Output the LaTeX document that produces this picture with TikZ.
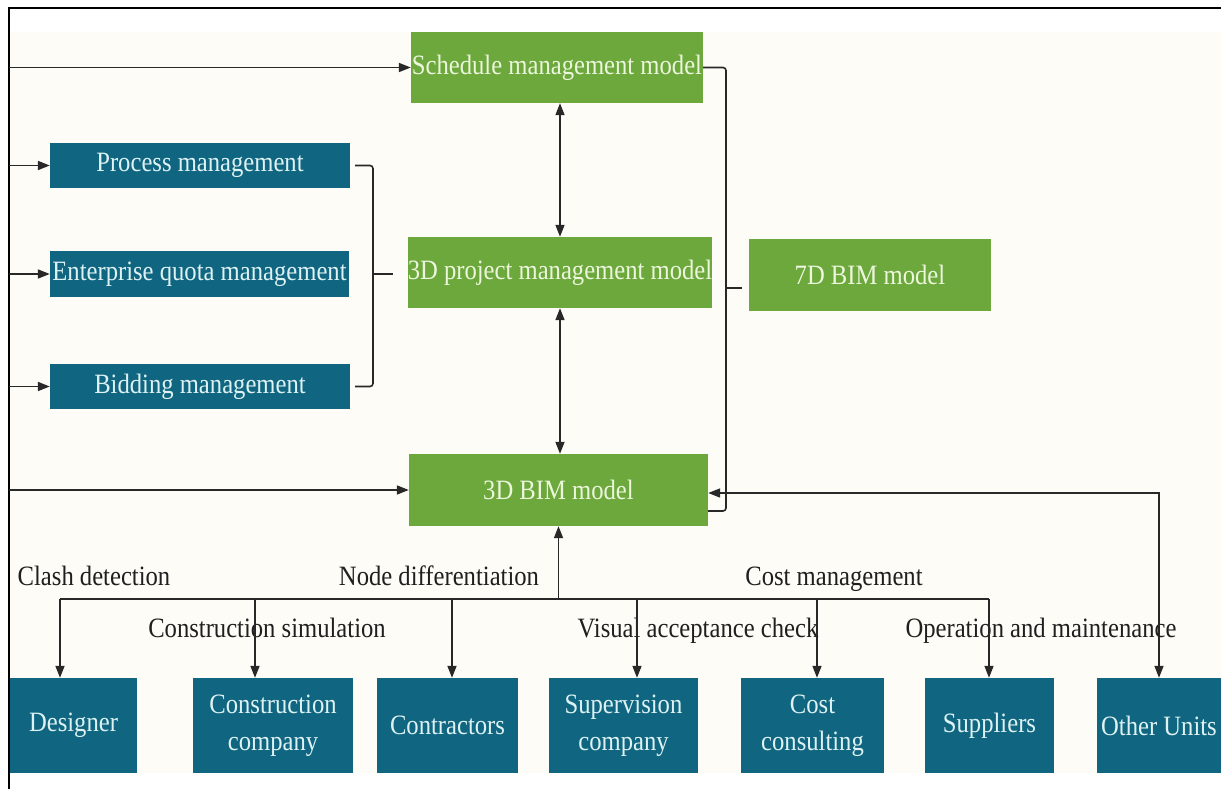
\documentclass[tikz,border=0pt]{standalone}
\usepackage{fontspec}
\setmainfont{Liberation Serif}[FakeStretch=0.88]
\usetikzlibrary{arrows.meta}
\definecolor{boxgreen}{RGB}{108,168,60}
\definecolor{boxteal}{RGB}{16,102,128}
\definecolor{paper}{RGB}{253,252,246}
\definecolor{linegray}{RGB}{40,40,40}
\definecolor{greentext}{RGB}{236,246,220}
\definecolor{tealtext}{RGB}{222,242,244}

\begin{document}
\begin{tikzpicture}[x=1pt,y=-1pt,font=\fontsize{28}{37}\selectfont]
    \tikzstyle{greenbox}=[fill=boxgreen, text=greentext, inner sep=0pt, minimum height=71pt]
    \tikzstyle{tealbox}=[fill=boxteal, text=tealtext, inner sep=0pt, align=center]
    \tikzstyle{conn}=[draw=linegray, line width=1.6pt]
    \tikzstyle{arr}=[conn, -{Triangle[length=12pt,width=9pt]}]
    \tikzstyle{darr}=[conn, {Triangle[length=12pt,width=9pt]}-{Triangle[length=12pt,width=9pt]}]
    \tikzstyle{lbl}=[text=black!88, inner sep=0pt, anchor=base]

    \useasboundingbox (0,0) rectangle (1221,789);
    \fill[white] (0,0) rectangle (1221,789);
    \fill[paper] (9,32) rectangle (1221,773);
    \draw[line width=2pt] (9,789) -- (9,8) -- (1221,8);

    % models
    \node[greenbox, minimum width=292pt] (sched) at (557,67.5) {Schedule management model};
    \node[greenbox, minimum width=302pt] (proj3d) at (560,272.5) {3D project management model};
    \node[greenbox, minimum width=299pt, minimum height=72pt] (bim3d) at (558.5,490) {3D BIM model};
    \node[greenbox, minimum width=242pt, minimum height=72pt] (bim7d) at (870,275) {7D BIM model};

    % management
    \node[tealbox, minimum width=300pt, minimum height=45pt] (procm) at (200,165.5) {Process management};
    \node[tealbox, minimum width=299pt, minimum height=46pt] (quota) at (199.5,274) {Enterprise quota management};
    \node[tealbox, minimum width=300pt, minimum height=45pt] (bidm) at (200,386.5) {Bidding management};

    % units
    \node[tealbox, minimum width=127pt, minimum height=95pt] (designer) at (73.5,725.5) {Designer};
    \node[tealbox, minimum width=160pt, minimum height=95pt] (constr) at (273,725.5) {Construction\\company};
    \node[tealbox, minimum width=141pt, minimum height=95pt] (contr) at (447.5,725.5) {Contractors};
    \node[tealbox, minimum width=149pt, minimum height=95pt] (superv) at (623.5,725.5) {Supervision\\company};
    \node[tealbox, minimum width=143pt, minimum height=95pt] (costc) at (812.5,725.5) {Cost\\consulting};
    \node[tealbox, minimum width=129pt, minimum height=95pt] (suppl) at (989.5,725.5) {Suppliers};
    \node[tealbox, minimum width=124pt, minimum height=95pt] (other) at (1159,725.5) {Other Units};

    % labels
    \node[lbl] (clash) at (94,585) {Clash detection};
    \node[lbl] (nodediff) at (439,585) {Node differentiation};
    \node[lbl] (costmgmt) at (834,585) {Cost management};
    \node[lbl] (consim) at (267,637) {Construction simulation};
    \node[lbl] (visual) at (698,637) {Visual acceptance check};
    \node[lbl] (opmaint) at (1041,637) {Operation and maintenance};

    \coordinate (spine) at (9,0);
    \coordinate (lbr) at (373,0);
    \coordinate (rbr) at (726,0);
    \coordinate (busL) at (60,599);
    \coordinate (busR) at (989,599);
    \coordinate (bimtick) at ([yshift=-21pt]bim3d.east);
    \coordinate (bimin) at ([yshift=-3pt]bim3d.east);

    % left spine
    \draw[arr] (spine |- sched.west) -- (sched.west);
    \draw[arr] (spine |- procm.west) -- (procm.west);
    \draw[arr] (spine |- quota.west) -- (quota.west);
    \draw[arr] (spine |- bidm.west) -- (bidm.west);
    \draw[arr] (spine |- bim3d.west) -- (bim3d.west);

    % braces
    \draw[conn, rounded corners=3pt] ([xshift=5pt]procm.east) -- (lbr |- procm.east) -- (lbr |- bidm.east) -- ([xshift=5pt]bidm.east);
    \draw[conn] (lbr |- quota.east) -- ++(20,0);
    \draw[conn, rounded corners=3pt] (sched.east) -- (rbr |- sched.east) -- (rbr |- bimtick) -- (bimtick);
    \draw[conn] ([yshift=-13pt]bim7d.west -| rbr) -- ++(16,0);

    % model chain
    \draw[darr] (sched.south -| proj3d.south) -- (proj3d.north -| proj3d.south);
    \draw[darr] (proj3d.south) -- (proj3d.south |- bim3d.north);
    \draw[darr] (bimin) -- (other.north |- bimin) -- (other.north);

    % bus
    \draw[conn] (busL) -- (busR);
    \draw[arr] (bim3d.south |- busL) -- (bim3d.south);
    \draw[arr] ([xshift=-13.5pt]designer.north |- busL) -- ([xshift=-13.5pt]designer.north);
    \draw[arr] ([xshift=-18pt]constr.north |- busL) -- ([xshift=-18pt]constr.north);
    \draw[arr] ([xshift=4.5pt]contr.north |- busL) -- ([xshift=4.5pt]contr.north);
    \draw[arr] ([xshift=13.5pt]superv.north |- busL) -- ([xshift=13.5pt]superv.north);
    \draw[arr] ([xshift=4.5pt]costc.north |- busL) -- ([xshift=4.5pt]costc.north);
    \draw[arr] (busR) -- (busR |- suppl.north);
\end{tikzpicture}
\end{document}
